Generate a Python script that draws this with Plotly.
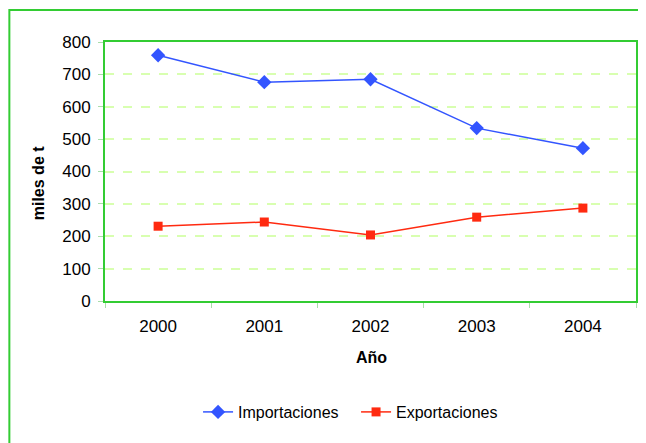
import plotly.graph_objects as go

years = ["2000", "2001", "2002", "2003", "2004"]
importaciones = [759, 676, 685, 534, 472]
exportaciones = [231, 244, 204, 259, 287]
y_ticks = [0, 100, 200, 300, 400, 500, 600, 700, 800]

FONT = "Liberation Sans, Arial, sans-serif"
GREEN = "#33cc33"

fig = go.Figure()
fig.add_trace(go.Scatter(
    x=years, y=importaciones, name="Importaciones", mode="lines+markers",
    line=dict(color="#3355ff", width=1.5),
    marker=dict(symbol="diamond", size=11, color="#3355ff"),
))
fig.add_trace(go.Scatter(
    x=years, y=exportaciones, name="Exportaciones", mode="lines+markers",
    line=dict(color="#ff2a10", width=1.5),
    marker=dict(symbol="square", size=9, color="#ff2a10"),
))

OFF = 8  # page body margin
W, H = 646 - OFF, 443 - OFF
L = 105 - OFF
T = 42 - OFF
R = W - (638 - OFF)
B = H - (301 - OFF)
pw, ph = W - L - R, H - T - B

def px(x):
    return (x - OFF - L) / pw

def py(y):
    return (H - B - (y - OFF)) / ph

fig.update_layout(
    width=W, height=H,
    margin=dict(l=L, r=R, t=T, b=B),
    paper_bgcolor="white", plot_bgcolor="white",
    font=dict(family=FONT, size=16, color="black"),
    showlegend=True,
    legend=dict(orientation="h", x=px(357), xanchor="center", y=py(412), yanchor="middle",
                font=dict(size=16), tracegroupgap=0, entrywidth=113, entrywidthmode="pixels"),
    xaxis=dict(
        type="category", showgrid=False, showline=True, linecolor=GREEN, linewidth=2,
        mirror=True, ticks="outside", tickson="boundaries", ticklen=5, tickcolor="#aaddaa",
        tickfont=dict(size=17), range=[-0.5, 4.5], ticklabelstandoff=9,
    ),
    yaxis=dict(
        range=[0, 800], tickvals=y_ticks, showgrid=True, gridcolor="#d8ffb0",
        griddash="dash", gridwidth=1.5, showline=True, linecolor=GREEN, linewidth=2,
        mirror=True, ticks="outside", ticklen=5, tickcolor="#aaddaa",
        tickfont=dict(size=17), zeroline=False, ticklabelstandoff=4,
    ),
    annotations=[
        dict(text="<b>Año</b>", x=px(373), y=py(357), xref="paper", yref="paper",
             showarrow=False, font=dict(size=16), xanchor="center", yanchor="middle"),
        dict(text="<b>miles de t</b>", x=px(38), y=py(183), xref="paper", yref="paper",
             showarrow=False, font=dict(size=16), textangle=-90,
             xanchor="center", yanchor="middle"),
    ],
    shapes=[
        dict(type="rect", xref="paper", yref="paper", x0=px(9), x1=px(700),
             y0=py(500), y1=py(10), line=dict(color=GREEN, width=2), layer="below"),
    ],
)

fig.write_html("out.html")
